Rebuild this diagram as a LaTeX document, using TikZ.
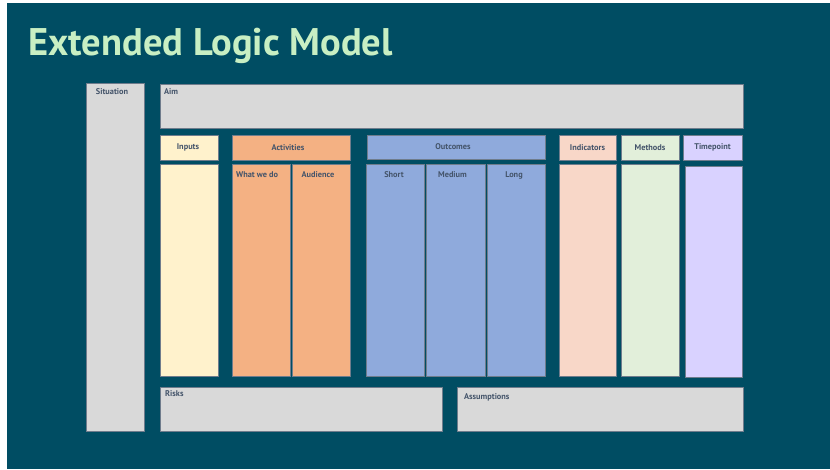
\documentclass[tikz,border=0pt]{standalone}
\usepackage{fontspec}
\setmainfont{PT Sans}
\definecolor{bg}{HTML}{004D63}
\definecolor{titlegreen}{HTML}{C8EFC3}
\definecolor{edge}{HTML}{6F7C8C}
\definecolor{lbltext}{HTML}{44546A}
\definecolor{grayfill}{HTML}{D9D9D9}
\definecolor{inputfill}{HTML}{FFF2CC}
\definecolor{actfill}{HTML}{F4B183}
\definecolor{outfill}{HTML}{8FAADC}
\definecolor{indfill}{HTML}{F8D7C8}
\definecolor{methfill}{HTML}{E2EFDA}
\definecolor{timefill}{HTML}{D9D2FF}
\begin{document}
\begin{tikzpicture}[x=1pt,y=-1pt,
  cell/.style={draw=edge, line width=0.8pt, inner sep=0pt, outer sep=0pt, anchor=north west},
  lbl/.style={font=\fontsize{8.3}{10}\selectfont\bfseries, text=lbltext, inner sep=0pt},
  hdr/.style={cell, lbl, align=center}]
\useasboundingbox (0,0) rectangle (830,469);
\fill[white] (0,0) rectangle (830,469);
\fill[bg] (7,3) rectangle (830,469);
\node[anchor=base west, font=\fontsize{38.5}{42}\selectfont\bfseries, text=titlegreen, inner sep=0pt] (title) at (28,55.5) {Extended Logic Model};
% left and top
\node[cell, fill=grayfill, minimum width=58pt, minimum height=348pt,
  label={[lbl, anchor=center, xshift=-3pt, yshift=-9pt]north:Situation}] (situation) at (86,83) {};
\node[cell, fill=grayfill, minimum width=583pt, minimum height=44pt,
  label={[lbl, anchor=west, xshift=4pt, yshift=-8pt]north west:Aim}] (aim) at (160,84) {};
% headers
\node[hdr, fill=inputfill, minimum width=58pt, minimum height=25pt] (inputs) at (160,135) {\hspace*{-2pt}Inputs};
\node[hdr, fill=actfill, minimum width=118pt, minimum height=25pt] (activities) at (232,135) {\hspace*{-6pt}Activities};
\node[hdr, fill=outfill, minimum width=178pt, minimum height=24pt] (outcomes) at (367,135) {\hspace*{-6pt}Outcomes};
\node[hdr, fill=indfill, minimum width=57pt, minimum height=25pt] (indicators) at (559,135) {Indicators};
\node[hdr, fill=methfill, minimum width=58pt, minimum height=25pt] (methods) at (621,135) {Methods};
\node[hdr, fill=timefill, minimum width=59pt, minimum height=25pt] (timepoint) at (683,135) {Timepoint};
% bodies
\node[cell, fill=inputfill, minimum width=58pt, minimum height=212pt] (inputsbody) at (160,164) {};
\node[cell, fill=actfill, minimum width=58pt, minimum height=212pt,
  label={[lbl, anchor=west, xshift=4pt, yshift=-11pt]north west:What we do}] (whatwedo) at (232,164) {};
\node[cell, fill=actfill, minimum width=58pt, minimum height=212pt,
  label={[lbl, anchor=center, xshift=-3pt, yshift=-11pt]north:Audience}] (audience) at (292,164) {};
\node[cell, fill=outfill, minimum width=58pt, minimum height=212pt,
  label={[lbl, anchor=center, xshift=-1pt, yshift=-11pt]north:Short}] (short) at (366,164) {};
\node[cell, fill=outfill, minimum width=59pt, minimum height=212pt,
  label={[lbl, anchor=center, xshift=-3pt, yshift=-11pt]north:Medium}] (medium) at (426,164) {};
\node[cell, fill=outfill, minimum width=58pt, minimum height=212pt,
  label={[lbl, anchor=center, xshift=-2pt, yshift=-11pt]north:Long}] (long) at (487,164) {};
\node[cell, fill=indfill, minimum width=57pt, minimum height=212pt] (indicatorsbody) at (559,164) {};
\node[cell, fill=methfill, minimum width=58pt, minimum height=212pt] (methodsbody) at (621,164) {};
\node[cell, fill=timefill, minimum width=57pt, minimum height=211pt] (timepointbody) at (685,166) {};
% bottom
\node[cell, fill=grayfill, minimum width=282pt, minimum height=44pt,
  label={[lbl, anchor=west, xshift=5pt, yshift=-7pt]north west:Risks}] (risks) at (160,387) {};
\node[cell, fill=grayfill, minimum width=286pt, minimum height=44pt,
  label={[lbl, anchor=west, xshift=7pt, yshift=-10pt]north west:Assumptions}] (assumptions) at (457,387) {};
\end{tikzpicture}
\end{document}
